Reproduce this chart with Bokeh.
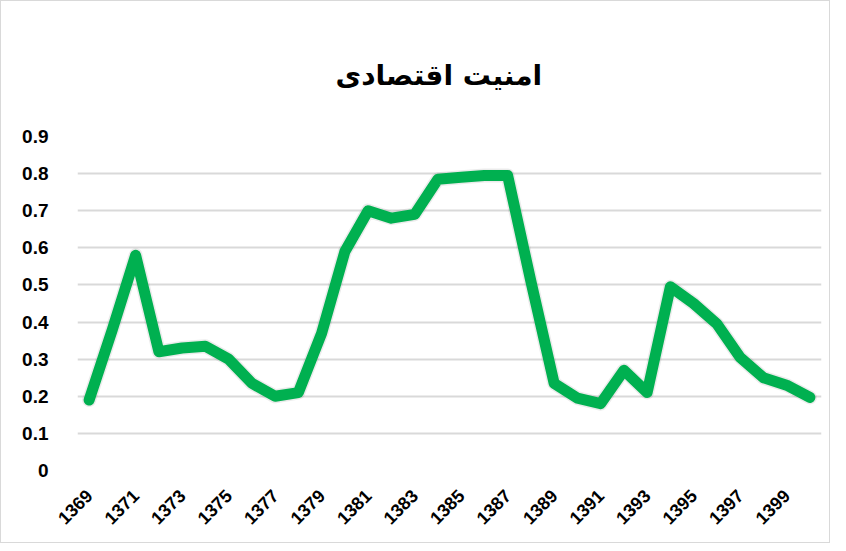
from bokeh.plotting import figure
from bokeh.models import Range1d, FixedTicker
from bokeh.embed import file_html
from bokeh.resources import INLINE

title_text = "امنیت اقتصادی"
years = list(range(1369, 1401))
values = [0.19, 0.38, 0.58, 0.32, 0.33, 0.335, 0.30, 0.235, 0.20, 0.21,
          0.37, 0.59, 0.70, 0.68, 0.69, 0.785, 0.79, 0.795, 0.795, 0.51,
          0.235, 0.195, 0.18, 0.27, 0.21, 0.495, 0.45, 0.395, 0.305, 0.25,
          0.23, 0.197]
tick_years = years[::2]
tick_labels = [str(y) for y in tick_years]
y_ticks = [0, 0.1, 0.2, 0.3, 0.4, 0.5, 0.6, 0.7, 0.8, 0.9]
y_labels = ["0", "0.1", "0.2", "0.3", "0.4", "0.5", "0.6", "0.7", "0.8", "0.9"]

p = figure(width=830, height=543, output_backend="svg", toolbar_location=None,
           x_range=Range1d(years[0] - 0.5, years[-1] + 0.5),
           y_range=Range1d(0, 0.9),
           min_border_left=76, min_border_right=10, min_border_top=135,
           min_border_bottom=74)
p.styles = {"border": "1px solid #d9d9d9"}
p.outline_line_color = None
p.background_fill_color = "white"
p.border_fill_color = "white"

p.title.text = title_text
p.title.align = "left"
p.title.text_font = "DejaVu Sans"
p.title.text_font_size = "28px"
p.title.text_font_style = "bold"
p.title.text_color = "black"
p.title.offset = 258
p.title.standoff = 89

# soft shadow under line
p.line(years, values, line_width=14, line_color="#000000", line_alpha=0.08,
       line_join="round", line_cap="round")
p.line(years, values, line_width=11, line_color="#00b050",
       line_join="round", line_cap="round")

p.xgrid.grid_line_color = None
p.ygrid.ticker = FixedTicker(ticks=y_ticks)
p.ygrid.grid_line_color = "#d9d9d9"
p.ygrid.grid_line_width = 2

xa = p.xaxis[0]
xa.ticker = FixedTicker(ticks=tick_years)
xa.major_label_overrides = {y: l for y, l in zip(tick_years, tick_labels)}
xa.major_label_orientation = 0.785398
xa.axis_line_color = None
xa.major_tick_line_color = None
xa.minor_tick_line_color = None
xa.major_label_text_font = "Liberation Sans"
xa.major_label_text_font_style = "bold"
xa.major_label_text_font_size = "18px"
xa.major_label_text_color = "black"
xa.major_label_standoff = 16

ya = p.yaxis[0]
ya.ticker = FixedTicker(ticks=y_ticks)
ya.major_label_overrides = {t: l for t, l in zip(y_ticks, y_labels)}
ya.axis_line_color = None
ya.major_tick_line_color = None
ya.minor_tick_line_color = None
ya.major_label_text_font = "Liberation Sans"
ya.major_label_text_font_style = "bold"
ya.major_label_text_font_size = "19px"
ya.major_label_text_color = "black"
ya.major_label_standoff = 23

open("out.html", "w").write(file_html(p, INLINE))
